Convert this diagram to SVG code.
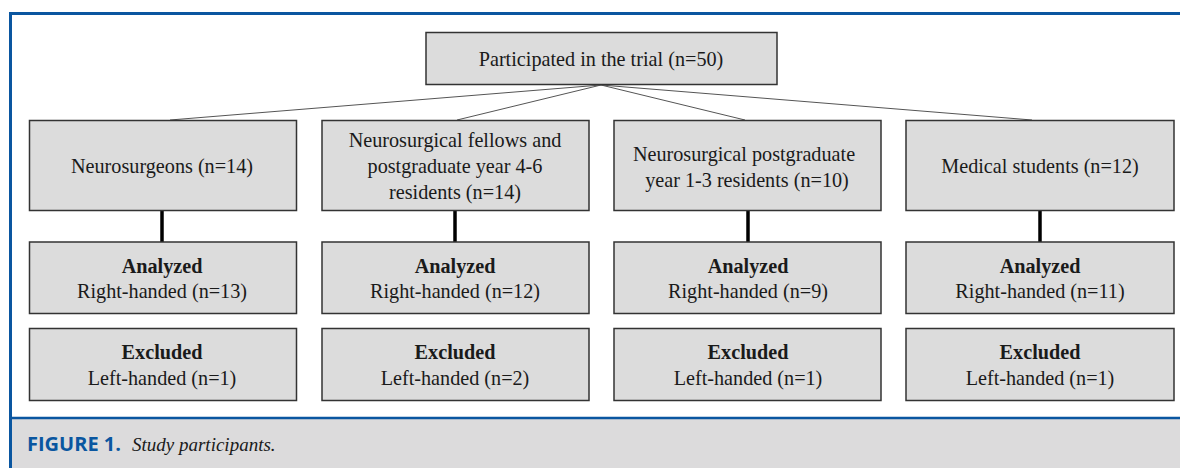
<svg xmlns="http://www.w3.org/2000/svg" width="1180" height="468" viewBox="0 0 1180 468">
<style>
.box{fill:#dcdcdc;stroke:#333;stroke-width:1.5}
.t{font-family:"Liberation Serif","Times New Roman",serif;font-size:20.2px;fill:#1a1a1a;text-anchor:middle}
.b{font-weight:bold}
.thin{stroke:#555;stroke-width:1;fill:none}
.thick{stroke:#000;stroke-width:3.5;fill:none}
</style>
<rect x="0" y="0" width="1180" height="468" fill="#fff"/>
<rect x="10" y="418" width="1170" height="50" fill="#dcdbdc"/>
<path d="M10.5,468 V13.5 H1180" fill="none" stroke="#0a56a0" stroke-width="3"/>
<line x1="10" y1="418" x2="1180" y2="418" stroke="#0a56a0" stroke-width="2.5"/>
<g id="connectors">
<line class="thin" x1="601" y1="85" x2="170" y2="120"/>
<line class="thin" x1="601" y1="85" x2="457" y2="120"/>
<line class="thin" x1="601" y1="85" x2="745" y2="120"/>
<line class="thin" x1="601" y1="85" x2="1032" y2="120"/>
<line class="thick" x1="162" y1="211" x2="162" y2="242"/>
<line class="thick" x1="455" y1="211" x2="455" y2="242"/>
<line class="thick" x1="748" y1="211" x2="748" y2="242"/>
<line class="thick" x1="1040" y1="211" x2="1040" y2="242"/>
</g>
<g id="top"><rect class="box" x="426" y="32.5" width="351" height="52"/><text class="t" x="601" y="66">Participated in the trial (n=50)</text></g>
<g id="g1"><rect class="box" x="29.5" y="120.5" width="267" height="90"/><text class="t" x="162" y="173">Neurosurgeons (n=14)</text></g>
<g id="g2"><rect class="box" x="322" y="120.5" width="267" height="90"/><text class="t" x="455" y="147">Neurosurgical fellows and</text><text class="t" x="455" y="173">postgraduate year 4-6</text><text class="t" x="455" y="198.5">residents (n=14)</text></g>
<g id="g3"><rect class="box" x="614" y="120.5" width="267" height="90"/><text class="t" x="744" y="160.5">Neurosurgical postgraduate</text><text class="t" x="747" y="187">year 1-3 residents (n=10)</text></g>
<g id="g4"><rect class="box" x="906" y="120.5" width="268" height="90"/><text class="t" x="1040" y="173">Medical students (n=12)</text></g>
<g id="a1"><rect class="box" x="29.5" y="242" width="267" height="71.5"/><text class="t b" x="162" y="272.5">Analyzed</text><text class="t" x="162" y="298">Right-handed (n=13)</text></g>
<g id="a2"><rect class="box" x="322" y="242" width="267" height="71.5"/><text class="t b" x="455" y="272.5">Analyzed</text><text class="t" x="455" y="298">Right-handed (n=12)</text></g>
<g id="a3"><rect class="box" x="614" y="242" width="267" height="71.5"/><text class="t b" x="748" y="272.5">Analyzed</text><text class="t" x="748" y="298">Right-handed (n=9)</text></g>
<g id="a4"><rect class="box" x="906" y="242" width="268" height="71.5"/><text class="t b" x="1040" y="272.5">Analyzed</text><text class="t" x="1040" y="298">Right-handed (n=11)</text></g>
<g id="e1"><rect class="box" x="29.5" y="328.5" width="267" height="72"/><text class="t b" x="162" y="359">Excluded</text><text class="t" x="162" y="385">Left-handed (n=1)</text></g>
<g id="e2"><rect class="box" x="322" y="328.5" width="267" height="72"/><text class="t b" x="455" y="359">Excluded</text><text class="t" x="455" y="385">Left-handed (n=2)</text></g>
<g id="e3"><rect class="box" x="614" y="328.5" width="267" height="72"/><text class="t b" x="748" y="359">Excluded</text><text class="t" x="748" y="385">Left-handed (n=1)</text></g>
<g id="e4"><rect class="box" x="906" y="328.5" width="268" height="72"/><text class="t b" x="1040" y="359">Excluded</text><text class="t" x="1040" y="385">Left-handed (n=1)</text></g>
<g id="caption">
<text x="27" y="451" font-family="'Open Sans','Liberation Sans',sans-serif" font-weight="bold" font-size="20" fill="#0a56a0">FIGURE 1.</text>
<text x="132" y="451" font-family="'Liberation Serif','Times New Roman',serif" font-style="italic" font-size="19" fill="#1a1a1a">Study participants.</text>
</g>
</svg>
